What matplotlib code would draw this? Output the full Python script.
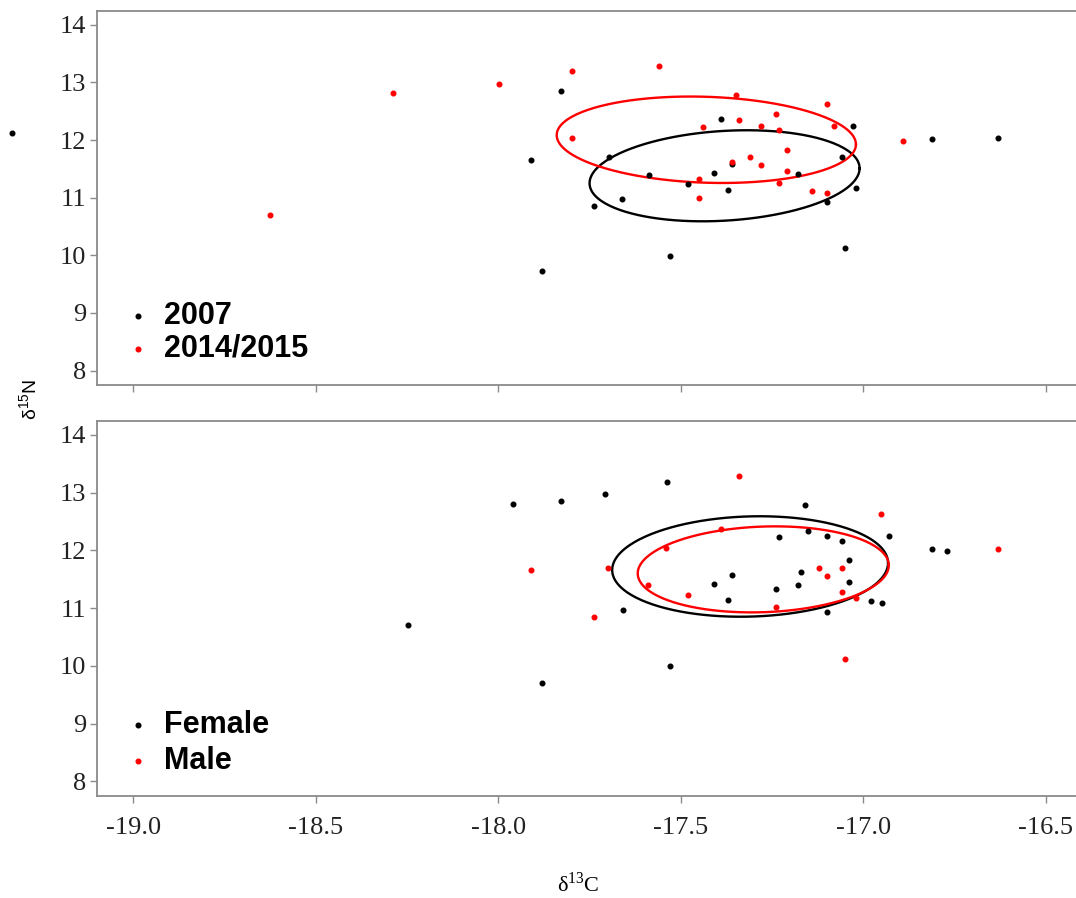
import numpy as np
import matplotlib
matplotlib.use("Agg")
import matplotlib.pyplot as plt

plt.rcParams['axes.unicode_minus'] = False

# top panel: sampling year
y2007_c = [-17.829, -17.91, -17.696, -17.588, -17.739, -17.66, -17.479, -17.409, -17.37,
           -17.36, -17.39, -17.529, -17.879, -17.029, -16.811, -16.63, -17.059, -17.178,
           -17.02, -17.10, -17.05, -19.334]
y2007_n = [12.85, 11.66, 11.70, 11.40, 10.86, 10.97, 11.24, 11.42, 11.14,
           11.58, 12.36, 9.99, 9.72, 12.24, 12.02, 12.03, 11.70, 11.41,
           11.16, 10.93, 10.12, 12.12]
y2014_c = [-18.627, -18.288, -17.998, -17.799, -17.559, -17.799, -17.349, -17.44, -17.34,
           -17.36, -17.449, -17.449, -17.31, -17.10, -17.239, -17.28, -17.23, -17.08,
           -17.21, -17.28, -17.21, -17.23, -17.14, -17.10, -16.891]
y2014_n = [10.70, 12.81, 12.98, 13.19, 13.29, 12.04, 12.79, 12.23, 12.34,
           11.62, 11.33, 11.00, 11.70, 12.63, 12.45, 12.24, 12.17, 12.24,
           11.83, 11.56, 11.46, 11.26, 11.12, 11.08, 11.98]

# bottom panel: sex
female_c = [-18.248, -17.96, -17.829, -17.709, -17.539, -17.359, -17.409, -17.37, -17.659,
            -17.529, -17.879, -17.159, -17.23, -17.151, -17.10, -17.059, -16.93, -16.811,
            -16.77, -17.039, -17.17, -17.039, -17.239, -17.18, -16.98, -16.949, -17.10]
female_n = [10.70, 12.81, 12.86, 12.98, 13.19, 11.57, 11.42, 11.14, 10.97,
            10.00, 9.71, 12.79, 12.23, 12.33, 12.24, 12.16, 12.24, 12.02,
            11.98, 11.84, 11.62, 11.46, 11.33, 11.40, 11.12, 11.08, 10.93]
male_c = [-17.34, -17.91, -17.699, -17.739, -17.479, -17.541, -17.59, -17.39, -16.95,
          -16.63, -17.12, -17.059, -17.10, -17.059, -17.02, -17.239, -17.05]
male_n = [13.29, 11.66, 11.70, 10.85, 11.23, 12.04, 11.40, 12.37, 12.63,
          12.02, 11.70, 11.70, 11.56, 11.28, 11.17, 11.01, 10.12]

# standard ellipses: centre, sd in x, sd in y, correlation
ell_top_cx = [-17.38, -17.43]
ell_top_cy = [11.38, 12.005]
ell_top_sx = [0.37, 0.41]
ell_top_sy = [0.79, 0.75]
ell_top_r = [0.164, -0.107]

ell_bot_cx = [-17.31, -17.274]
ell_bot_cy = [11.72, 11.67]
ell_bot_sx = [0.378, 0.344]
ell_bot_sy = [0.87, 0.745]
ell_bot_r = [0.07, 0.094]

xticks = [-19.0, -18.5, -18.0, -17.5, -17.0, -16.5]
yticks = [8, 9, 10, 11, 12, 13, 14]

fig = plt.figure(figsize=(10.76, 8.98), dpi=100)
ax1 = fig.add_axes([0.0904, 0.5713, 0.9096, 0.4165])
ax2 = fig.add_axes([0.0904, 0.1139, 0.9096, 0.4173])

spine_col = '#8a8a8a'


def ellipse(ax, cx, cy, sx, sy, r, col):
    cov = np.array([[sx * sx, r * sx * sy], [r * sx * sy, sy * sy]])
    L = np.linalg.cholesky(cov)
    t = np.linspace(0, 2 * np.pi, 300)
    pts = L @ np.vstack([np.cos(t), np.sin(t)])
    ax.plot(cx + pts[0], cy + pts[1], color=col, lw=1.7)


def style(ax, labels):
    ax.set_xlim(-19.099, -16.417)
    ax.set_ylim(7.75, 14.24)
    ax.set_xticks(xticks)
    ax.set_yticks(yticks)
    ax.set_xticklabels([f"{v:.1f}" for v in xticks] if labels else [])
    ax.set_yticklabels([str(v) for v in yticks])
    ax.spines['right'].set_visible(False)
    for s in ['left', 'top', 'bottom']:
        ax.spines[s].set_color(spine_col)
        ax.spines[s].set_linewidth(1.3)
    ax.tick_params(direction='out', length=5, width=1, color=spine_col,
                   labelcolor='#222222', labelsize=19)
    ax.tick_params(axis='x', pad=10)
    ax.tick_params(axis='y', pad=3)
    for lab in ax.get_xticklabels() + ax.get_yticklabels():
        lab.set_family('Liberation Serif')


ax1.scatter(y2007_c, y2007_n, s=11, color='black', label='2007', clip_on=False, zorder=3)
ax1.scatter(y2014_c, y2014_n, s=11, color='red', label='2014/2015', zorder=3)
for i, col in enumerate(['black', 'red']):
    ellipse(ax1, ell_top_cx[i], ell_top_cy[i], ell_top_sx[i], ell_top_sy[i], ell_top_r[i], col)
style(ax1, False)

ax2.scatter(female_c, female_n, s=11, color='black', label='Female', zorder=3)
ax2.scatter(male_c, male_n, s=11, color='red', label='Male', zorder=3)
for i, col in enumerate(['black', 'red']):
    ellipse(ax2, ell_bot_cx[i], ell_bot_cy[i], ell_bot_sx[i], ell_bot_sy[i], ell_bot_r[i], col)
style(ax2, True)

leg_font = {'family': 'Liberation Sans', 'weight': 'bold', 'size': 22}
ax1.legend(loc='lower left', bbox_to_anchor=(0.026, 0.057), frameon=False, prop=leg_font,
           handlelength=1.0, handletextpad=0.35, labelspacing=0.08,
           borderpad=0, borderaxespad=0, scatterpoints=1)
ax2.legend(loc='lower left', bbox_to_anchor=(0.026, 0.053), frameon=False, prop=leg_font,
           handlelength=1.0, handletextpad=0.35, labelspacing=0.2,
           borderpad=0, borderaxespad=0, scatterpoints=1)

fig.text(0.028, 0.555, r'δ$^{\mathregular{15}}$N', rotation=90, ha='center', va='center',
         fontsize=14, family='Liberation Sans')
fig.text(0.537, 0.015, r'δ$^{\mathregular{13}}$C', ha='center', va='center',
         fontsize=16, family='Liberation Serif')

fig.savefig('out.png', dpi=100)
